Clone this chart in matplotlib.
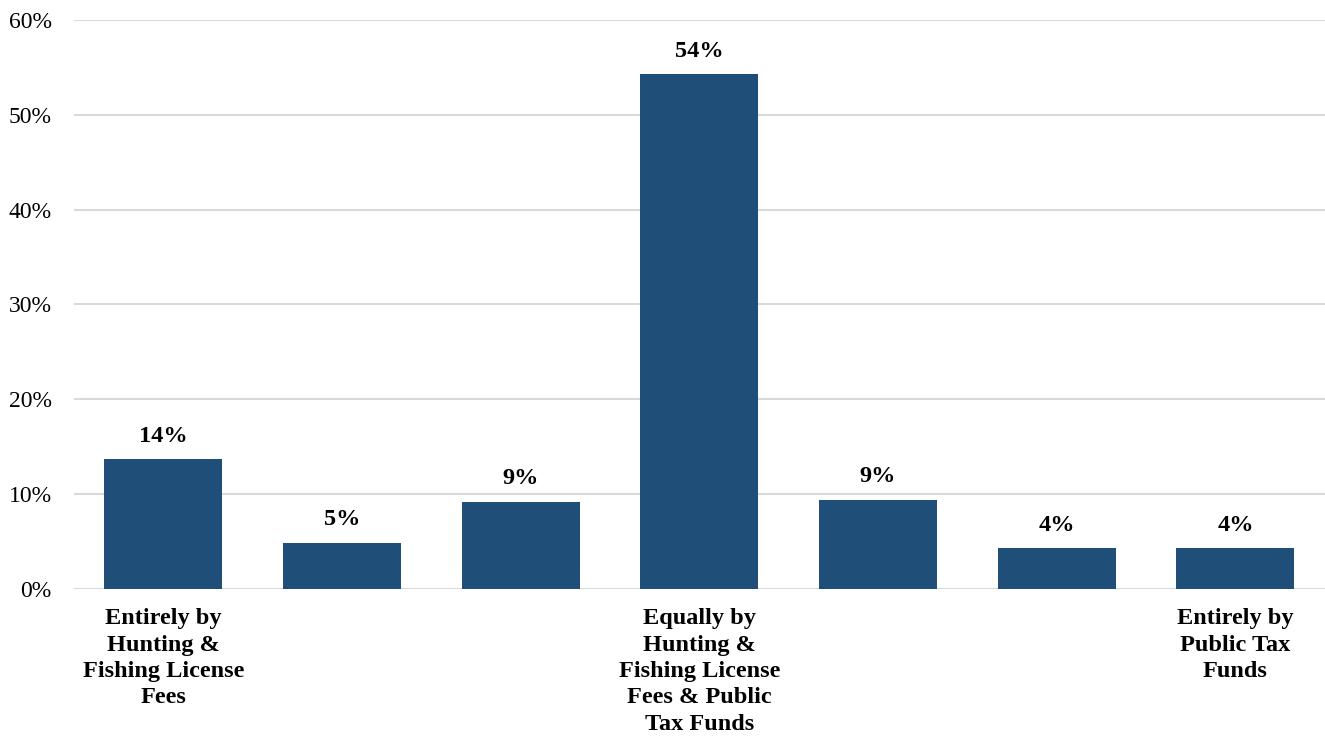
import numpy as np
import matplotlib
matplotlib.use('Agg')
import matplotlib.pyplot as plt
from matplotlib.ticker import PercentFormatter

plt.rcParams['font.family'] = ['Liberation Serif', 'DejaVu Serif']

# chart data
categories = [
    'Entirely by\nHunting &\nFishing License\nFees',
    '',
    '',
    'Equally by\nHunting &\nFishing License\nFees & Public\nTax Funds',
    '',
    '',
    'Entirely by\nPublic Tax\nFunds',
]
values = [13.7, 4.9, 9.2, 54.3, 9.4, 4.3, 4.3]
value_labels = ['14%', '5%', '9%', '54%', '9%', '4%', '4%']
y_ticks = [0, 10, 20, 30, 40, 50, 60]

bar_color = '#1F4E79'
grid_color = '#D9D9D9'

fig = plt.figure(figsize=(13.25, 7.38), dpi=100)
ax = fig.add_axes([0.0558, 0.2019, 0.944, 0.771])

x = np.arange(len(values))
bars = ax.bar(x, values, width=0.66, color=bar_color, zorder=3)

for b, lab in zip(bars, value_labels):
    ax.annotate(lab, (b.get_x() + b.get_width() / 2, b.get_height()),
                xytext=(0, 9), textcoords='offset points',
                ha='center', va='bottom', fontsize=17.5, fontweight='bold')

ax.set_xlim(-0.5, len(values) - 0.5)
ax.set_ylim(0, 60)
ax.set_yticks(y_ticks)
ax.yaxis.set_major_formatter(PercentFormatter(decimals=0))
ax.set_xticks(x)
ax.set_xticklabels(categories, fontsize=17.5, fontweight='bold', va='top',
                   linespacing=1.33)

ax.tick_params(axis='y', length=0, pad=16, labelsize=17)
ax.tick_params(axis='x', length=0, pad=14)
ax.yaxis.grid(True, color=grid_color, linewidth=1.5, zorder=0)
ax.set_axisbelow(True)

for s in ax.spines.values():
    s.set_visible(False)

fig.savefig('out.png', dpi=100)
